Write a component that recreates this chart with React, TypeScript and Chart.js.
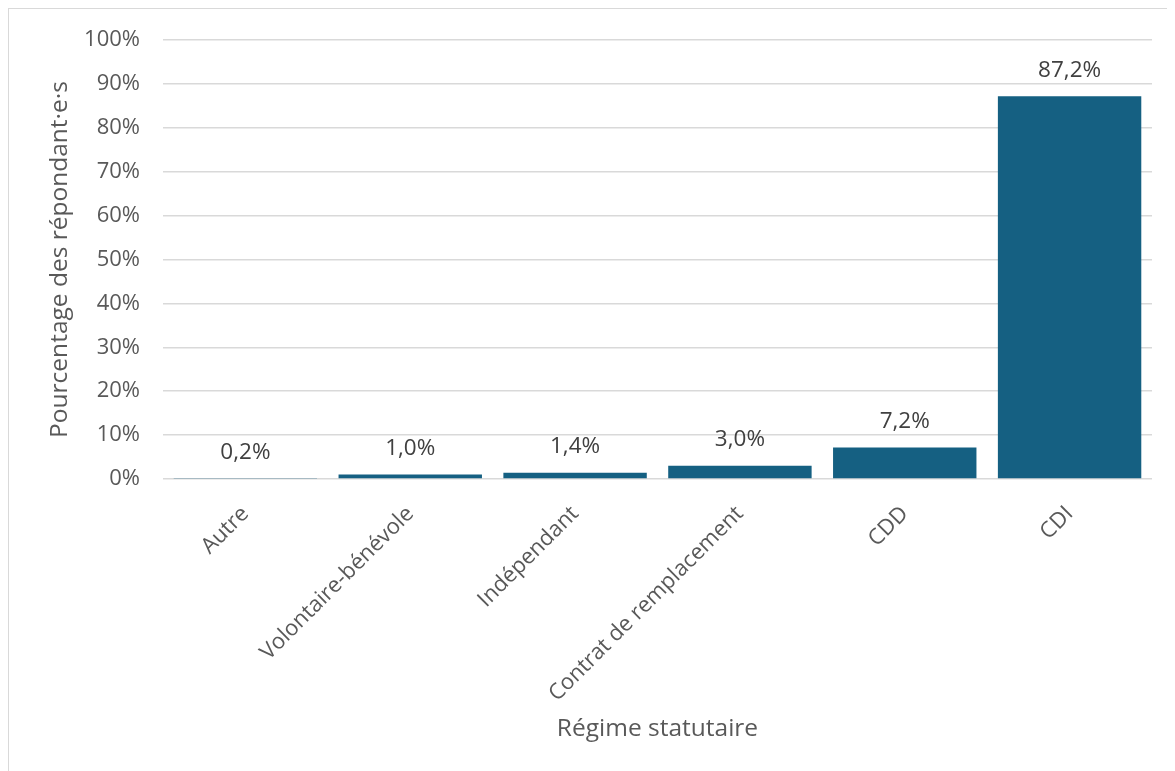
import React, { useEffect, useRef } from "react";
import { Chart, registerables } from "chart.js";

Chart.register(...registerables);

const categories = [
  "Autre",
  "Volontaire-bénévole",
  "Indépendant",
  "Contrat de remplacement",
  "CDD",
  "CDI",
];
const values = [0.2, 1.0, 1.4, 3.0, 7.2, 87.2];
const valueLabels = ["0,2%", "1,0%", "1,4%", "3,0%", "7,2%", "87,2%"];
const yTicks = [0, 10, 20, 30, 40, 50, 60, 70, 80, 90, 100];

const FONT = "'Open Sans', 'Liberation Sans', sans-serif";

const dataLabelPlugin = {
  id: "dataLabels",
  afterDatasetsDraw(chart: any) {
    const ctx = chart.ctx;
    const meta = chart.getDatasetMeta(0);
    ctx.save();
    ctx.font = `22.5px ${FONT}`;
    ctx.fillStyle = "#404040";
    ctx.textAlign = "center";
    ctx.textBaseline = "middle";
    meta.data.forEach((bar: any, i: number) => {
      ctx.fillText(valueLabels[i], bar.x, bar.y - 26);
    });
    ctx.restore();
  },
};

export default function App() {
  const ref = useRef<HTMLCanvasElement | null>(null);
  useEffect(() => {
    if (!ref.current) return;
    const chart = new Chart(ref.current, {
      type: "bar",
      data: {
        labels: categories,
        datasets: [
          {
            data: values,
            backgroundColor: "#156082",
            categoryPercentage: 0.87,
            barPercentage: 1,
          },
        ],
      },
      options: {
        animation: false,
        responsive: false,
        maintainAspectRatio: false,
        layout: { padding: { top: 31, right: 23, left: 36, bottom: 27 } },
        plugins: {
          legend: { display: false },
          tooltip: { enabled: false },
        },
        scales: {
          x: {
            afterFit: (axis: any) => {
              axis.paddingLeft = 0;
              axis.paddingRight = 0;
              axis.height = 265;
            },
            grid: { display: false, drawTicks: false },
            border: { display: false },
            ticks: {
              color: "#595959",
              font: { family: FONT, size: 22 },
              maxRotation: 45,
              minRotation: 45,
              padding: 22,
            },
            title: {
              display: true,
              text: "Régime statutaire",
              color: "#595959",
              font: { family: FONT, size: 24.5 },
              padding: { top: 0, bottom: 0 },
            },
          },
          y: {
            min: 0,
            max: 100,
            afterBuildTicks: (axis: any) => {
              axis.ticks = yTicks.map((v) => ({ value: v }));
            },
            afterFit: (axis: any) => {
              axis.width = 118;
              axis.paddingTop = 0;
              axis.paddingBottom = 0;
            },
            grid: { color: "#d9d9d9", lineWidth: 1.5, drawTicks: false },
            border: { display: false },
            ticks: {
              color: "#595959",
              font: { family: FONT, size: 22 },
              padding: 23,
              callback: (v: any) => v + "%",
            },
            title: {
              display: true,
              text: "Pourcentage des répondant·e·s",
              color: "#595959",
              font: { family: FONT, size: 24.5 },
              padding: { top: 0, bottom: 9 },
            },
          },
        },
      },
      plugins: [dataLabelPlugin],
    });
    return () => chart.destroy();
  }, []);
  return (
    <div
      style={{
        width: 1167,
        height: 763,
        boxSizing: "border-box",
        borderTop: "1px solid #d9d9d9",
        borderLeft: "1px solid #d9d9d9",
        background: "#fff",
      }}
    >
      <canvas ref={ref} width={1166} height={762} style={{ display: "block" }} />
    </div>
  );
}
